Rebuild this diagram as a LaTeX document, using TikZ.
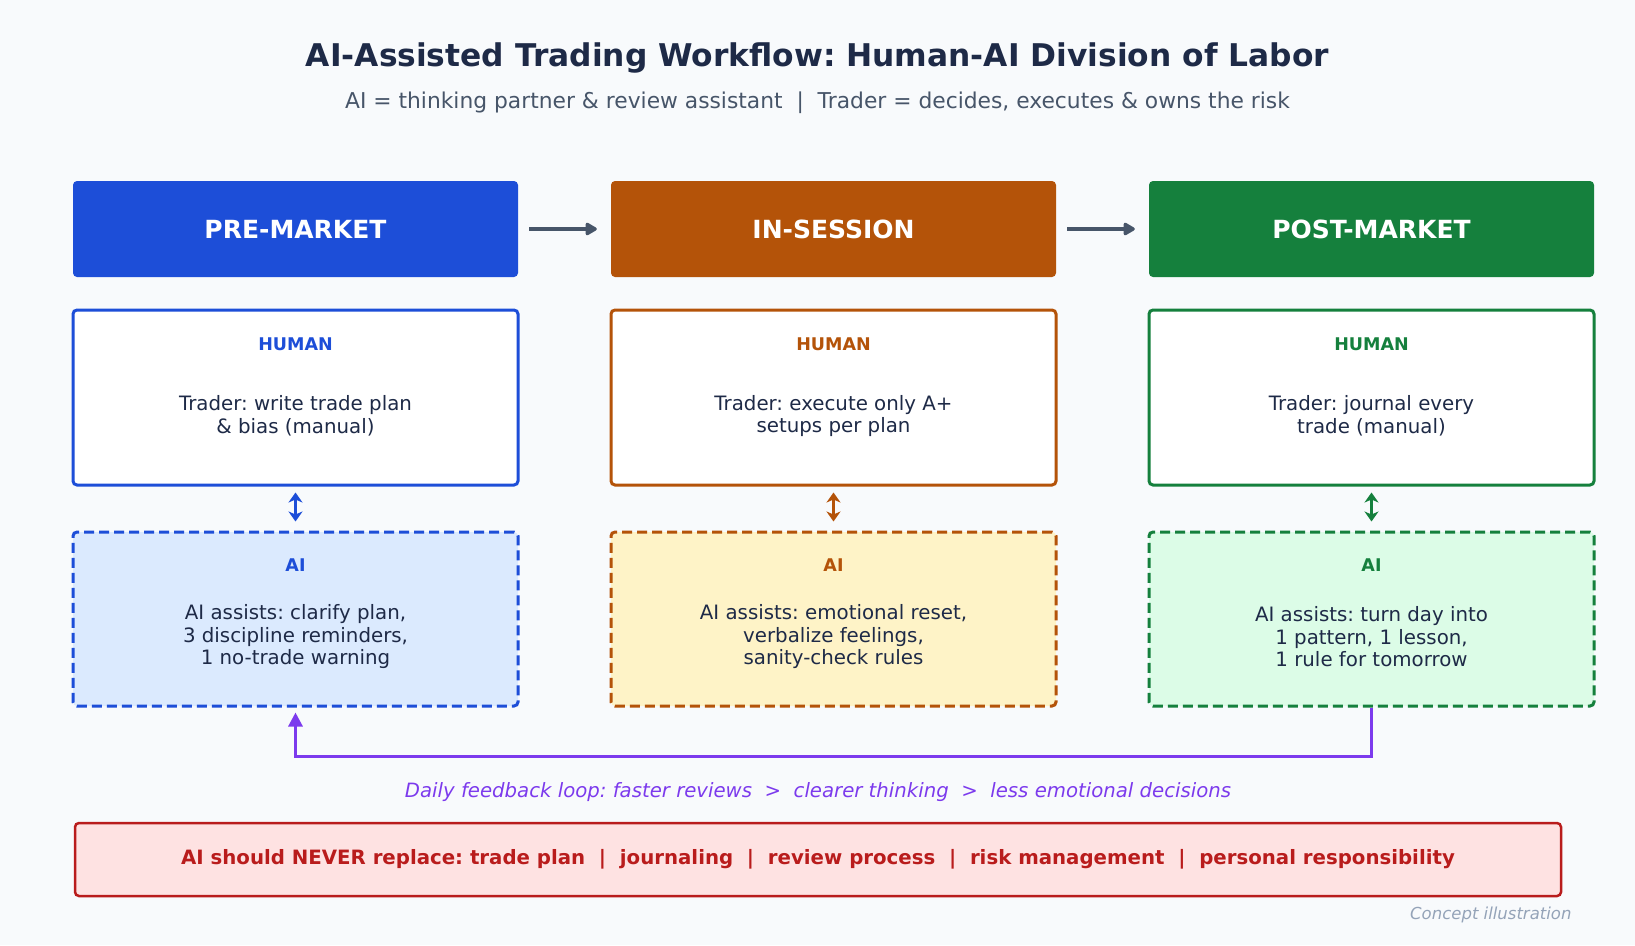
\documentclass[tikz,border=0pt]{standalone}
\usepackage{fontspec}
\setmainfont{DejaVu Sans}
\usetikzlibrary{arrows.meta}
\definecolor{bg}{HTML}{F8FAFC}
\definecolor{ink}{HTML}{1E2A47}
\definecolor{sub}{HTML}{475569}
\definecolor{cblue}{HTML}{1D4ED8}
\definecolor{corange}{HTML}{B45309}
\definecolor{cgreen}{HTML}{15803D}
\definecolor{lblue}{HTML}{DBEAFE}
\definecolor{lorange}{HTML}{FEF3C7}
\definecolor{lgreen}{HTML}{DCFCE7}
\definecolor{cpurple}{HTML}{7C3AED}
\definecolor{cred}{HTML}{B91C1C}
\definecolor{lred}{HTML}{FEE2E2}
\definecolor{note}{HTML}{94A3B8}
\begin{document}
\frenchspacing
\begin{tikzpicture}[x=1pt,y=-1pt,
  header/.style={fill=#1, draw=none, rounded corners=4pt, minimum width=445pt, minimum height=96pt, inner sep=0pt,
     text=white, font=\bfseries\fontsize{25}{30}\selectfont},
  humanbox/.style={draw=#1, fill=white, line width=3pt, rounded corners=4pt, minimum width=445pt, minimum height=175pt, inner sep=0pt},
  aibox/.style={draw=#1, line width=3pt, dash pattern=on 10pt off 5pt, rounded corners=4pt, minimum width=445pt, minimum height=174pt, inner sep=0pt},
  rolelbl/.style={text=#1, font=\bfseries\fontsize{17.5}{20}\selectfont},
  bodytxt/.style={text=ink, align=center, font=\fontsize{19.8}{22.5}\selectfont},
  flowarrow/.style={draw=sub, line width=4pt, -{Triangle[length=13pt,width=14pt,round]}},
  linkarrow/.style={draw=#1, line width=3pt, {Stealth[length=10pt,width=14pt,inset=3pt]}-{Stealth[length=10pt,width=14pt,inset=3pt]}},
]
\useasboundingbox[fill=bg] (0,0) rectangle (1635,945);

\node[text=ink, font=\bfseries\fontsize{31.3}{36}\selectfont] (title) at (817.5,58) {AI-Assisted Trading Workflow: Human-AI Division of Labor};
\node[text=sub, font=\fontsize{21.8}{26}\selectfont] (subtitle) at (817.5,103) {AI = thinking partner \& review assistant\ \ |\ \ Trader = decides, executes \& owns the risk};

% headers
\node[header=cblue] (h1) at (295.5,229) {PRE-MARKET};
\node[header=corange] (h2) at (833.5,229) {IN-SESSION};
\node[header=cgreen] (h3) at (1371.5,229) {POST-MARKET};
\draw[flowarrow, shorten <=11pt, shorten >=14pt] (h1.east) -- (h2.west);
\draw[flowarrow, shorten <=11pt, shorten >=14pt] (h2.east) -- (h3.west);

% human boxes
\node[humanbox=cblue] (u1) at (295.5,397.5) {};
\node[humanbox=corange] (u2) at (833.5,397.5) {};
\node[humanbox=cgreen] (u3) at (1371.5,397.5) {};
\node[rolelbl=cblue] (u1l) at (295.5,344) {HUMAN};
\node[rolelbl=corange] (u2l) at (833.5,344) {HUMAN};
\node[rolelbl=cgreen] (u3l) at (1371.5,344) {HUMAN};
\node[bodytxt] (u1t) at (295.5,416) {Trader: write trade plan\\\& bias (manual)};
\node[bodytxt] (u2t) at (833.5,416) {Trader: execute only A+\\setups per plan};
\node[bodytxt] (u3t) at (1371.5,416) {Trader: journal every\\trade (manual)};

% AI boxes
\node[aibox=cblue, fill=lblue] (a1) at (295.5,619) {};
\node[aibox=corange, fill=lorange] (a2) at (833.5,619) {};
\node[aibox=cgreen, fill=lgreen] (a3) at (1371.5,619) {};
\node[rolelbl=cblue] (a1l) at (295.5,565) {AI};
\node[rolelbl=corange] (a2l) at (833.5,565) {AI};
\node[rolelbl=cgreen] (a3l) at (1371.5,565) {AI};
\node[bodytxt] (a1t) at (295.5,637) {AI assists: clarify plan,\\3 discipline reminders,\\1 no-trade warning};
\node[bodytxt] (a2t) at (833.5,637) {AI assists: emotional reset,\\verbalize feelings,\\sanity-check rules};
\node[bodytxt] (a3t) at (1371.5,637) {AI assists: turn day into\\1 pattern, 1 lesson,\\1 rule for tomorrow};

% human-AI links
\draw[linkarrow=cblue, shorten <=6pt, shorten >=9pt] (u1.south) -- (a1.north);
\draw[linkarrow=corange, shorten <=6pt, shorten >=9pt] (u2.south) -- (a2.north);
\draw[linkarrow=cgreen, shorten <=6pt, shorten >=9pt] (u3.south) -- (a3.north);

% feedback loop
\coordinate (fb) at (1371.5,756);
\draw[draw=cpurple, line width=3pt, -{Triangle[length=14pt,width=14pt]}, shorten >=5pt]
  (a3.south) -- (fb) -| (a1.south);
\node[text=cpurple, font=\itshape\fontsize{19.7}{24}\selectfont] (fbt) at (818,792) {Daily feedback loop: faster reviews\ \ >\ \ clearer thinking\ \ >\ \ less emotional decisions};

% warning box
\node[draw=cred, fill=lred, line width=2.5pt, rounded corners=4pt, minimum width=1486pt, minimum height=73pt, inner sep=0pt,
  text=cred, font=\bfseries\fontsize{19.75}{24}\selectfont] (warn) at (818,859.5)
  {AI should NEVER replace: trade plan\ \ |\ \ journaling\ \ |\ \ review process\ \ |\ \ risk management\ \ |\ \ personal responsibility};

\node[anchor=east, text=note, font=\itshape\fontsize{16.5}{19}\selectfont] (concept) at (1575,915) {Concept illustration};
\end{tikzpicture}
\end{document}
